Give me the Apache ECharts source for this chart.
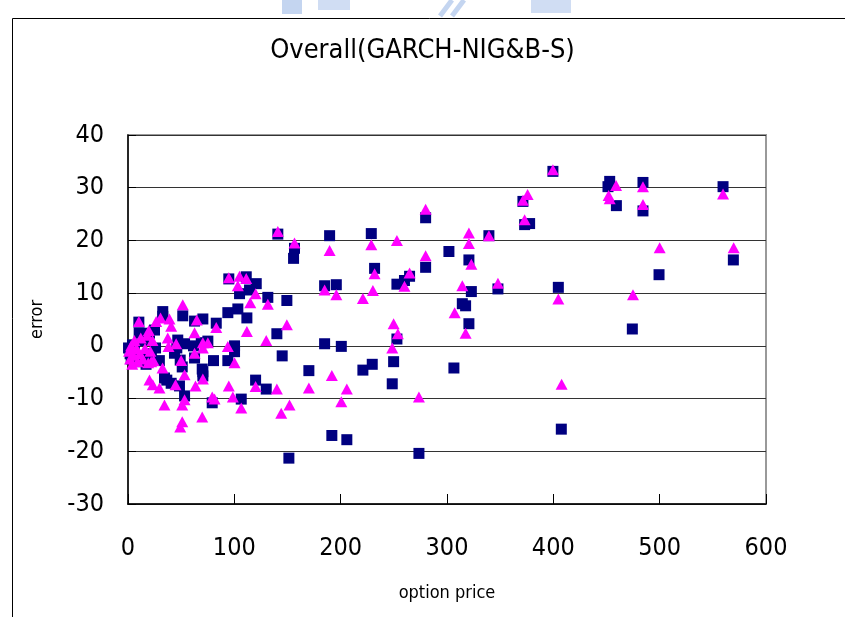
<!DOCTYPE html>
<html>
<head>
<meta charset="utf-8">
<title>Overall(GARCH-NIG&B-S)</title>
<script src="https://cdn.jsdelivr.net/npm/echarts@6/dist/echarts.min.js"></script>
<style>
  html, body { margin: 0; padding: 0; background: #fff; }
  #chart { width: 845px; height: 617px; }
</style>
</head>
<body>
<div id="chart"></div>
<script>
  // axis ticks
  var xTicks = [0, 100, 200, 300, 400, 500, 600]
  var yTicks = [-30, -20, -10, 0, 10, 20, 30, 40]

  // navy squares: [option price, error]
  var garchNig = [
    [0.5, -0.4], [2, -1.5], [3, -2.5], [4.2, 0.2], [6, -1], [8, -3], [10.2, 4.5], [10.5, 2.4],
    [12, -2], [15, 1], [17, -3.5], [20.2, 2.4], [22, -1.5], [24.9, 3.0], [25.9, -0.4], [29.5, -2.8],
    [32.7, 6.5], [32.7, 5.6], [34.3, -6.1], [36.5, -6.5], [40.6, -7.1], [43.7, -1.4], [45.9, -0.4],
    [46.8, 1.1], [48.4, -7.6], [49.1, -2.7], [51, -4.0], [51.5, 5.7], [53.2, 0.4], [53.2, -9.5],
    [61.6, 0], [62.6, 4.7], [62.6, -2.3], [68.9, 0.6], [69.8, -4.4], [70.4, 5.1], [70.4, -4.9],
    [70.4, -5.7], [75.1, 0.9], [79.2, -10.8], [80.4, -2.8], [83, 4.3], [93.9, 6.3], [93.9, -2.8],
    [94.8, 12.7], [100.2, 0], [100.2, -1.1], [103.3, 7.0], [104.9, 9.9], [106.5, -10.1], [111.2, 13.1],
    [111.8, 5.3], [114.3, 10.6], [120, -6.5], [120.6, 11.8], [130, -8.2], [131.5, 9.2], [140, 2.3],
    [140.9, 21.2], [145, -1.9], [149.4, 8.6], [151.3, -21.3], [155.7, 16.6], [156.6, 18.5], [170.1, -4.7],
    [184.9, 11.4], [184.9, 0.4], [189.6, 20.9], [191.7, -17.0], [195.9, 11.6], [200.6, -0.1], [205.8, -17.8],
    [220.9, -4.6], [228.8, 21.3], [229.7, -3.5], [231.9, 14.7], [248.5, -7.2], [249.8, -3.0], [252.9, 1.3],
    [252.9, 11.7], [260, 12.4], [264.8, 13.2], [273.6, -20.4], [279.9, 24.3], [279.9, 14.9], [301.8, 17.9],
    [306.5, -4.2], [314.4, 8.0], [317.5, 7.6], [320.6, 16.3], [320.6, 4.2], [322.9, 10.3], [339.4, 20.9],
    [347.9, 10.8], [371.4, 27.4], [373, 23], [377.7, 23.2], [399.6, 33.1], [404.7, 11.1], [407.5, -15.8],
    [451.4, 30.2], [453, 31.2], [459.3, 26.6], [474.3, 3.2], [484.3, 31.0], [484.3, 25.6], [499.4, 13.5],
    [559.6, 30.2], [569.3, 16.3]
  ]

  // magenta triangles: [option price, error]
  var blackScholes = [
    [1, -1], [2, -2.5], [3, 0], [4, -3.5], [5, -1.8], [6, 1], [8, -0.5], [9, -3], [10.2, 4.6],
    [11, -1.5], [12, 1.5], [14, -2.5], [16, -0.5], [18, 2], [19.6, 2.9], [19, -3.2], [20.2, -6.5],
    [21, -1], [21.8, -3.0], [23, 1], [23.3, -7.4], [24, -2.8], [26.5, 4.6], [29.6, -8.0], [30.6, 5.3],
    [32.5, -4.2], [34.3, -11.2], [37.4, 1.5], [38.1, -0.1], [39, 5.1], [40.6, 3.7], [44.7, -7.4],
    [45.3, 0.4], [50, -2.8], [51, -11.2], [51, -14.4], [49.1, -15.4], [51.5, 7.8], [53.2, -5.5],
    [53.2, -10.2], [62.6, 2.5], [62.6, -1.4], [63.5, -7.6], [64.7, 4.9], [69.8, -13.5], [70.4, 0.6],
    [70.4, -0.4], [70.4, -6.3], [75.1, 0.6], [79.2, -9.7], [81.4, -10.1], [83, 3.5], [93.9, -0.1],
    [94.8, 12.9], [94.8, -7.6], [98.6, -9.7], [100.2, -3.2], [103.3, 11.4], [104.9, 13.2], [106.5, -11.8],
    [111.2, 12.8], [111.8, 2.7], [115, 8.2], [120, 9.9], [120, -7.7], [130, 1.0], [131.5, 7.9],
    [140, -8.2], [140.9, 21.7], [144.1, -12.8], [149.4, 4.0], [151.9, -11.2], [156.6, 19.5], [170.1, -8.0],
    [184.9, 10.6], [189.6, 18.1], [191.7, -5.6], [195.9, 9.7], [200.6, -10.6], [205.8, -8.2], [220.9, 9.0],
    [228.8, 19.2], [230.3, 10.5], [231.9, 13.7], [248.5, -0.4], [249.8, 4.2], [252.9, 20.0], [253.8, 2.3],
    [260, 11.3], [264.8, 13.8], [273.6, -9.7], [279.9, 25.9], [279.9, 17.1], [307.2, 6.3], [314.4, 11.4],
    [317.5, 2.4], [320.6, 21.4], [320.6, 19.4], [322.9, 15.5], [339.4, 20.9], [347.9, 11.9], [371.4, 27.6],
    [373, 23.9], [375.8, 28.7], [399.6, 33.4], [404.7, 8.9], [407.8, -7.3], [452, 28.5], [453, 27.9],
    [459, 30.4], [474.9, 9.7], [484.3, 30.2], [484.3, 26.8], [500, 18.6], [559.6, 28.8], [569.6, 18.6]
  ]

  var narrow = "'DejaVu Sans Condensed', 'Liberation Sans Narrow', Arial, sans-serif"

  var chart = echarts.init(document.getElementById('chart'), null, { renderer: 'canvas' })
  chart.setOption({
    backgroundColor: '#fff',
    animation: false,
    title: {
      text: 'Overall(GARCH-NIG&B-S)',
      left: 'center',
      top: 32,
      textStyle: { fontFamily: narrow, fontSize: 27, fontWeight: 'normal', color: '#000' }
    },
    graphic: [
      // outer frame of the pasted chart
      { type: 'rect', shape: { x: 12.5, y: 18.5, width: 860, height: 640 },
        style: { fill: 'none', stroke: '#000', lineWidth: 1 }, silent: true },
      // faint blue watermark bits cut off at the top
      { type: 'rect', shape: { x: 282, y: 0, width: 20, height: 14 }, style: { fill: '#c4d5f0' }, silent: true },
      { type: 'rect', shape: { x: 318, y: 0, width: 32, height: 10 }, style: { fill: '#d0ddf3' }, silent: true },
      { type: 'polyline', shape: { points: [[440, 16], [452, 0]] }, style: { stroke: '#c4d5f0', lineWidth: 5 }, silent: true },
      { type: 'polyline', shape: { points: [[452, 16], [464, 0]] }, style: { stroke: '#c4d5f0', lineWidth: 5 }, silent: true },
      { type: 'rect', shape: { x: 531, y: 0, width: 40, height: 13 }, style: { fill: '#d0ddf3' }, silent: true }
    ],
    grid: {
      left: 128,
      right: 79,
      top: 135,
      bottom: 113,
      show: true,
      borderColor: '#999',
      borderWidth: 2
    },
    xAxis: {
      type: 'value',
      min: xTicks[0],
      max: xTicks[xTicks.length - 1],
      interval: 100,
      name: 'option price',
      nameLocation: 'middle',
      nameGap: 80,
      nameTextStyle: { fontFamily: narrow, fontSize: 18, color: '#000' },
      axisLine: { show: true, onZero: false, lineStyle: { color: '#000', width: 1.5 } },
      axisTick: { show: true, inside: true, length: 10, lineStyle: { color: '#000' } },
      axisLabel: { fontFamily: narrow, fontSize: 25, color: '#000', margin: 32 },
      splitLine: { show: false }
    },
    yAxis: {
      type: 'value',
      min: yTicks[0],
      max: yTicks[yTicks.length - 1],
      interval: 10,
      name: 'error',
      nameLocation: 'middle',
      nameGap: 82,
      nameRotate: 90,
      nameTextStyle: { fontFamily: narrow, fontSize: 18, color: '#000' },
      axisLine: { show: true, onZero: false, lineStyle: { color: '#000', width: 1.5 } },
      axisTick: { show: true, inside: true, length: 8, lineStyle: { color: '#000' } },
      axisLabel: { fontFamily: narrow, fontSize: 25, color: '#000', margin: 24 },
      splitLine: { show: true, lineStyle: { color: '#333', width: 1 } }
    },
    series: [
      {
        name: 'GARCH-NIG',
        type: 'scatter',
        symbol: 'rect',
        symbolSize: 11,
        itemStyle: { color: '#000080', opacity: 1 },
        data: garchNig
      },
      {
        name: 'B-S',
        type: 'scatter',
        symbol: 'triangle',
        symbolSize: [12, 11],
        itemStyle: { color: '#ff00ff', opacity: 1 },
        data: blackScholes
      }
    ]
  })
</script>
</body>
</html>
